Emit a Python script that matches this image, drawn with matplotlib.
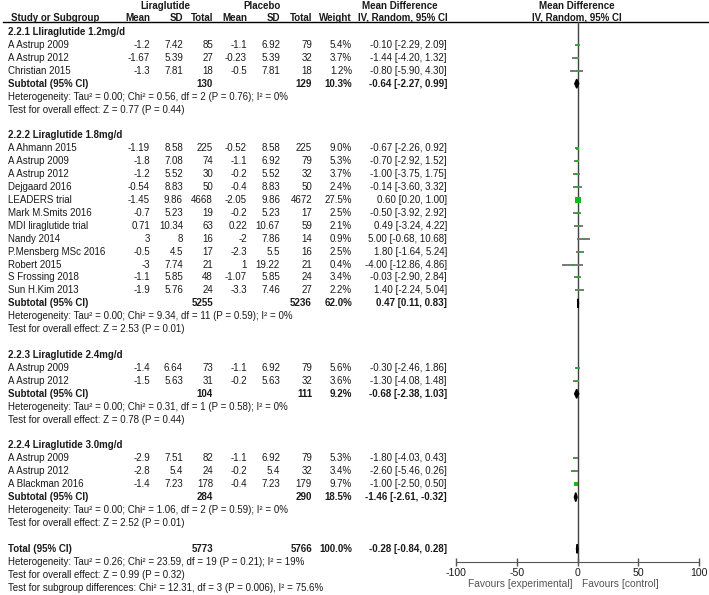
import numpy as np
import matplotlib.pyplot as plt
from matplotlib.patches import Polygon

plt.rcParams['font.family'] = ['Liberation Sans', 'DejaVu Sans']
plt.rcParams['axes.unicode_minus'] = False

# data
groups = ["2.2.1 Lliraglutide 1.2mg/d", "2.2.2 Liraglutide 1.8mg/d",
          "2.2.3 Liraglutide 2.4mg/d", "2.2.4 Liraglutide 3.0mg/d"]
study = ["A Astrup 2009", "A Astrup 2012", "Christian 2015",
         "A Ahmann 2015", "A Astrup 2009", "A Astrup 2012", "Dejgaard 2016",
         "LEADERS trial", "Mark M.Smits 2016", "MDI liraglutide trial", "Nandy 2014",
         "P.Mensberg MSc 2016", "Robert 2015", "S Frossing 2018", "Sun H.Kim 2013",
         "A Astrup 2009", "A Astrup 2012",
         "A Astrup 2009", "A Astrup 2012", "A Blackman 2016"]
group = [0, 0, 0, 1, 1, 1, 1, 1, 1, 1, 1, 1, 1, 1, 1, 2, 2, 3, 3, 3]
lira_mean = [-1.2, -1.67, -1.3, -1.19, -1.8, -1.2, -0.54, -1.45, -0.7, 0.71, 3, -0.5, -3, -1.1, -1.9,
             -1.4, -1.5, -2.9, -2.8, -1.4]
lira_sd = [7.42, 5.39, 7.81, 8.58, 7.08, 5.52, 8.83, 9.86, 5.23, 10.34, 8, 4.5, 7.74, 5.85, 5.76,
           6.64, 5.63, 7.51, 5.4, 7.23]
lira_n = [85, 27, 18, 225, 74, 30, 50, 4668, 19, 63, 16, 17, 21, 48, 24, 73, 31, 82, 24, 178]
plac_mean = [-1.1, -0.23, -0.5, -0.52, -1.1, -0.2, -0.4, -2.05, -0.2, 0.22, -2, -2.3, 1, -1.07, -3.3,
             -1.1, -0.2, -1.1, -0.2, -0.4]
plac_sd = [6.92, 5.39, 7.81, 8.58, 6.92, 5.52, 8.83, 9.86, 5.23, 10.67, 7.86, 5.5, 19.22, 5.85, 7.46,
           6.92, 5.63, 6.92, 5.4, 7.23]
plac_n = [79, 32, 18, 225, 79, 32, 50, 4672, 17, 59, 14, 16, 21, 24, 27, 79, 32, 79, 32, 179]
weight = [5.4, 3.7, 1.2, 9.0, 5.3, 3.7, 2.4, 27.5, 2.5, 2.1, 0.9, 2.5, 0.4, 3.4, 2.2, 5.6, 3.6, 5.3, 3.4, 9.7]
md = [-0.10, -1.44, -0.80, -0.67, -0.70, -1.00, -0.14, 0.60, -0.50, 0.49, 5.00, 1.80, -4.00, -0.03, 1.40,
      -0.30, -1.30, -1.80, -2.60, -1.00]
ci_lo = [-2.29, -4.20, -5.90, -2.26, -2.92, -3.75, -3.60, 0.20, -3.92, -3.24, -0.68, -1.64, -12.86, -2.90, -2.24,
         -2.46, -4.08, -4.03, -5.46, -2.50]
ci_hi = [2.09, 1.32, 4.30, 0.92, 1.52, 1.75, 3.32, 1.00, 2.92, 4.22, 10.68, 5.24, 4.86, 2.84, 5.04,
         1.86, 1.48, 0.43, 0.26, 0.50]

sub_lira_n = [130, 5255, 104, 284]
sub_plac_n = [129, 5236, 111, 290]
sub_weight = [10.3, 62.0, 9.2, 18.5]
sub_md = [-0.64, 0.47, -0.68, -1.46]
sub_lo = [-2.27, 0.11, -2.38, -2.61]
sub_hi = [0.99, 0.83, 1.03, -0.32]
sub_tau = [0.00, 0.00, 0.00, 0.00]
sub_chi = [0.56, 9.34, 0.31, 1.06]
sub_df = [2, 11, 1, 2]
sub_p = ["0.76", "0.59", "0.58", "0.59"]
sub_i2 = [0, 0, 0, 0]
sub_z = [0.77, 2.53, 0.78, 2.52]
sub_zp = ["0.44", "0.01", "0.44", "0.01"]

tot_lira_n, tot_plac_n, tot_weight = 5773, 5766, 100.0
tot_md, tot_lo, tot_hi = -0.28, -0.84, 0.28
tot_tau, tot_chi, tot_df, tot_p, tot_i2 = 0.26, 23.59, 19, "0.21", 19
tot_z, tot_zp = 0.99, "0.32"
subgroup_test = "Test for subgroup differences: Chi\u00b2 = 12.31, df = 3 (P = 0.006), I\u00b2 = 75.6%"

FS = 7.0
TXT = '#1a1a1a'
GREEN = '#17b817'
GREY = '#787878'
Y0, DY = 32, 12.92
XNAME = 8
COLS = [150, 183, 213, 247, 280, 312, 352]
XCI = 447

fig = plt.figure(figsize=(7.09, 5.95), dpi=100)
ax = fig.add_axes([0, 0, 1, 1])
ax.set_xlim(0, 709)
ax.set_ylim(595, 0)
ax.axis('off')

fx = fig.add_axes([456 / 709, 1 - 562 / 595, 243 / 709, (562 - 22) / 595])
fx.set_xlim(-100, 100)
fx.set_ylim(562, 22)
fx.patch.set_visible(False)
for s in ['top', 'left', 'right']:
    fx.spines[s].set_visible(False)
fx.spines['bottom'].set_color('#555555')
fx.set_yticks([])
fx.set_xticks([-100, -50, 0, 50, 100])
fx.tick_params(axis='x', direction='inout', length=6, width=1, color='#555555',
               labelsize=FS + 0.6, pad=1, labelcolor=TXT)
fx.axvline(0, color='#404040', lw=1, zorder=1)


def t(x, y, s, ha='left', bold=False, color=TXT, size=FS):
    ax.text(x, y, s, ha=ha, va='center', fontsize=size, color=color,
            fontweight='bold' if bold else 'normal')


def ypos(r):
    return Y0 + r * DY


def diamond(m, lo, hi, y):
    fx.add_patch(Polygon([(lo, y), (m, y - 4.5), (hi, y), (m, y + 4.5)],
                         closed=True, color='black', zorder=4, clip_on=False))


# headers
t(165, 6, "Liraglutide", 'center', True)
t(262, 6, "Placebo", 'center', True)
t(400, 6, "Mean Difference", 'center', True)
t(577, 6, "Mean Difference", 'center', True)
t(XNAME + 3, 18, "Study or Subgroup", bold=True)
for x, s in zip(COLS, ["Mean", "SD", "Total", "Mean", "SD", "Total", "Weight"]):
    t(x, 18, s, 'right', True)
t(403, 18, "IV, Random, 95% CI", 'center', True)
t(577, 18, "IV, Random, 95% CI", 'center', True)
ax.plot([3, 709], [22, 22], color='black', lw=1)

row = 0
for g, name in enumerate(groups):
    t(XNAME, ypos(row), name, bold=True)
    row += 1
    for i in [k for k in range(len(study)) if group[k] == g]:
        y = ypos(row)
        t(XNAME, y, study[i])
        vals = [f"{lira_mean[i]:g}", f"{lira_sd[i]:g}", f"{lira_n[i]}",
                f"{plac_mean[i]:g}", f"{plac_sd[i]:g}", f"{plac_n[i]}", f"{weight[i]:.1f}%"]
        for x, s in zip(COLS, vals):
            t(x, y, s, 'right')
        t(XCI, y, f"{md[i]:.2f} [{ci_lo[i]:.2f}, {ci_hi[i]:.2f}]", 'right')
        fx.hlines(y, ci_lo[i], ci_hi[i], color=GREY, lw=1.4, zorder=2)
        side = max(2.0, 10 * np.sqrt(weight[i] / 100))
        fx.plot(md[i], y, 's', ms=side * 0.72, color=GREEN, mec=GREEN, mew=0, zorder=3)
        row += 1
    y = ypos(row)
    t(XNAME, y, "Subtotal (95% CI)", bold=True)
    t(COLS[2], y, f"{sub_lira_n[g]}", 'right', True)
    t(COLS[5], y, f"{sub_plac_n[g]}", 'right', True)
    t(COLS[6], y, f"{sub_weight[g]:.1f}%", 'right', True)
    t(XCI, y, f"{sub_md[g]:.2f} [{sub_lo[g]:.2f}, {sub_hi[g]:.2f}]", 'right', True)
    diamond(sub_md[g], sub_lo[g], sub_hi[g], y)
    row += 1
    t(XNAME, ypos(row), f"Heterogeneity: Tau\u00b2 = {sub_tau[g]:.2f}; Chi\u00b2 = {sub_chi[g]:.2f}, "
                         f"df = {sub_df[g]} (P = {sub_p[g]}); I\u00b2 = {sub_i2[g]}%")
    row += 1
    t(XNAME, ypos(row), f"Test for overall effect: Z = {sub_z[g]:.2f} (P = {sub_zp[g]})")
    row += 2

y = ypos(row)
t(XNAME, y, "Total (95% CI)", bold=True)
t(COLS[2], y, f"{tot_lira_n}", 'right', True)
t(COLS[5], y, f"{tot_plac_n}", 'right', True)
t(COLS[6], y, f"{tot_weight:.1f}%", 'right', True)
t(XCI, y, f"{tot_md:.2f} [{tot_lo:.2f}, {tot_hi:.2f}]", 'right', True)
diamond(tot_md, tot_lo, tot_hi, y)
t(XNAME, ypos(row + 1), f"Heterogeneity: Tau\u00b2 = {tot_tau:.2f}; Chi\u00b2 = {tot_chi:.2f}, "
                         f"df = {tot_df} (P = {tot_p}); I\u00b2 = {tot_i2}%")
t(XNAME, ypos(row + 2), f"Test for overall effect: Z = {tot_z:.2f} (P = {tot_zp})")
t(XNAME, ypos(row + 3), subgroup_test)

t(573, 584, "Favours [experimental]", 'right', color='#555555', size=FS + 0.4)
t(582, 584, "Favours [control]", color='#555555', size=FS + 0.4)

fig.savefig('out.png', dpi=100)
